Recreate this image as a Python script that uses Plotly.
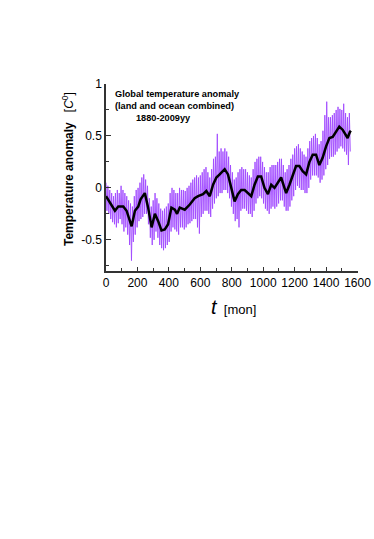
import plotly.graph_objects as go

# Monthly anomaly (purple): two values per year (high, low)
purple_vals = [
    0.05, -0.22, 0.02, -0.25, -0.02, -0.30, -0.05, -0.33, -0.08, -0.35,
    -0.05, -0.38, -0.02, -0.34, -0.05, -0.30, 0.02, -0.35, -0.02, -0.42,
    -0.05, -0.38, -0.08, -0.45, -0.12, -0.55, -0.15, -0.70, -0.18, -0.52,
    -0.08, -0.45, -0.02, -0.38, 0.00, -0.32, 0.05, -0.30, 0.10, -0.28,
    0.13, -0.25, 0.08, -0.25, 0.02, -0.35, -0.10, -0.48, -0.18, -0.55,
    -0.12, -0.50, -0.05, -0.42, -0.10, -0.48, -0.15, -0.55, -0.20, -0.58,
    -0.22, -0.60, -0.20, -0.58, -0.18, -0.55, -0.15, -0.52, -0.05, -0.42,
    0.00, -0.38, -0.02, -0.40, -0.05, -0.42, -0.05, -0.45, 0.00, -0.38,
    -0.02, -0.38, -0.02, -0.40, -0.03, -0.38, 0.00, -0.35, 0.02, -0.34,
    0.05, -0.32, 0.08, -0.30, 0.10, -0.30, 0.12, -0.38, 0.10, -0.44,
    0.12, -0.28, 0.15, -0.25, 0.18, -0.22, 0.20, -0.22, 0.15, -0.25,
    0.10, -0.28, 0.18, -0.20, 0.28, -0.15, 0.30, -0.10, 0.52, -0.08,
    0.35, -0.05, 0.38, -0.05, 0.35, -0.02, 0.38, -0.02, 0.35, -0.05,
    0.30, -0.10, 0.22, -0.18, 0.15, -0.25, 0.08, -0.32, 0.10, -0.30,
    0.15, -0.38, 0.18, -0.22, 0.20, -0.20, 0.18, -0.20, 0.18, -0.22,
    0.15, -0.25, 0.12, -0.25, 0.10, -0.28, 0.18, -0.22, 0.25, -0.15,
    0.28, -0.10, 0.30, -0.08, 0.30, -0.10, 0.25, -0.15, 0.20, -0.20,
    0.15, -0.22, 0.15, -0.25, 0.20, -0.20, 0.22, -0.18, 0.22, -0.20,
    0.22, -0.18, 0.25, -0.15, 0.28, -0.12, 0.28, -0.12, 0.22, -0.18,
    0.15, -0.22, 0.18, -0.22, 0.22, -0.18, 0.28, -0.12, 0.32, -0.08,
    0.38, -0.02, 0.40, 0.02, 0.42, 0.00, 0.38, -0.02, 0.35, -0.02,
    0.32, -0.05, 0.30, -0.05, 0.38, 0.00, 0.45, 0.08, 0.48, 0.12,
    0.50, 0.12, 0.52, 0.12, 0.48, 0.10, 0.42, 0.05, 0.45, 0.08,
    0.55, 0.12, 0.70, 0.18, 0.83, 0.22, 0.68, 0.28, 0.68, 0.30,
    0.70, 0.30, 0.72, 0.32, 0.75, 0.35, 0.78, 0.38, 0.76, 0.40,
    0.75, 0.38, 0.81, 0.35, 0.72, 0.32, 0.68, 0.22, 0.72, 0.35,
]
purple_months = [6 * i for i in range(len(purple_vals))]

# Smoothed anomaly (black)
smooth_months = [0, 25, 57, 78, 110, 131, 152, 163, 184, 205, 220, 247, 268, 290, 311,
                 332, 353, 374, 395, 416, 438, 452, 469, 501, 533, 564, 586, 617, 638,
                 660, 681, 702, 723, 755, 776, 797, 818, 839, 860, 882, 903, 924, 945,
                 966, 987, 1008, 1030, 1051, 1072, 1093, 1114, 1135, 1146, 1167, 1188,
                 1209, 1230, 1251, 1273, 1294, 1315, 1336, 1357, 1378, 1400, 1421, 1442,
                 1463, 1484, 1505, 1526, 1537, 1552, 1558]
smooth_vals = [-0.08, -0.14, -0.22, -0.18, -0.18, -0.22, -0.32, -0.37, -0.22, -0.18,
               -0.11, -0.05, -0.19, -0.38, -0.25, -0.32, -0.41, -0.40, -0.35, -0.19,
               -0.21, -0.25, -0.19, -0.21, -0.16, -0.10, -0.08, -0.06, -0.03, -0.08,
               0.03, 0.10, 0.13, 0.18, 0.13, 0.00, -0.13, -0.06, -0.02, -0.02, -0.05,
               -0.08, 0.03, 0.11, 0.11, 0.00, -0.06, 0.03, 0.00, 0.05, 0.10, 0.00,
               -0.05, 0.03, 0.13, 0.21, 0.21, 0.16, 0.13, 0.25, 0.32, 0.32, 0.22,
               0.29, 0.40, 0.48, 0.49, 0.54, 0.59, 0.56, 0.51, 0.48, 0.54, 0.55]

x_ticks = [0, 200, 400, 600, 800, 1000, 1200, 1400, 1600]
x_ticktext = [str(v) for v in x_ticks]
y_ticks = [-0.5, 0, 0.5, 1]
y_ticktext = ["-0.5", "0", "0.5", "1"]

FONT = "Liberation Sans, Arial, sans-serif"

fig = go.Figure()
fig.add_trace(go.Scatter(x=purple_months, y=purple_vals, mode="lines",
                         line=dict(color="#a04aff", width=0.9), hoverinfo="skip"))
fig.add_trace(go.Scatter(x=smooth_months, y=smooth_vals, mode="lines",
                         line=dict(color="black", width=2.5), hoverinfo="skip"))

axis_common = dict(showgrid=False, zeroline=False, showline=True, linecolor="#333",
                   linewidth=1.5, ticks="inside", tickcolor="#333", tickwidth=1,
                   automargin=False,
                   tickfont=dict(family=FONT, size=12, color="black"), mirror=False)

fig.update_xaxes(range=[0, 1603], tickvals=x_ticks, ticktext=x_ticktext, ticklen=4,
                 minor=dict(dtick=100, tick0=0, ticks="inside", ticklen=3, tickcolor="#333"),
                 **axis_common)
fig.update_yaxes(range=[-0.8, 1], tickvals=y_ticks, ticktext=y_ticktext, ticklen=5,
                 minor=dict(dtick=0.25, tick0=0, ticks="inside", ticklen=3, tickcolor="#333"),
                 **axis_common)

fig.update_layout(
    width=374, height=530,
    margin=dict(l=106, r=16, t=84, b=259),
    paper_bgcolor="white", plot_bgcolor="white",
    showlegend=False,
    font=dict(family=FONT, color="black"),
    annotations=[
        dict(xref="paper", yref="paper", x=-0.151, y=0.545, xanchor="center", yanchor="middle",
             textangle=-90, showarrow=False,
             text="<b>Temperature anomaly</b>   [<i>C</i><sup>0</sup>]",
             font=dict(family=FONT, size=12)),
        dict(xref="paper", yref="paper", x=0.504, y=-0.193, xanchor="center", yanchor="middle",
             showarrow=False,
             text="<i><span style='font-size:20px'>t</span></i>  [mon]",
             font=dict(family=FONT, size=13)),
        dict(xref="paper", yref="paper", x=0.028, y=0.947, xanchor="left", yanchor="middle",
             showarrow=False, text="<b>Global temperature anomaly</b>",
             font=dict(family=FONT, size=9.2)),
        dict(xref="paper", yref="paper", x=0.028, y=0.882, xanchor="left", yanchor="middle",
             showarrow=False, text="<b>(land and ocean combined)</b>",
             font=dict(family=FONT, size=9.2)),
        dict(xref="paper", yref="paper", x=0.111, y=0.818, xanchor="left", yanchor="middle",
             showarrow=False, text="<b>1880-2009yy</b>",
             font=dict(family=FONT, size=9.2)),
    ],
)

fig.write_html("out.html", config={"displayModeBar": False},
               post_script="document.body.style.margin='0';")
